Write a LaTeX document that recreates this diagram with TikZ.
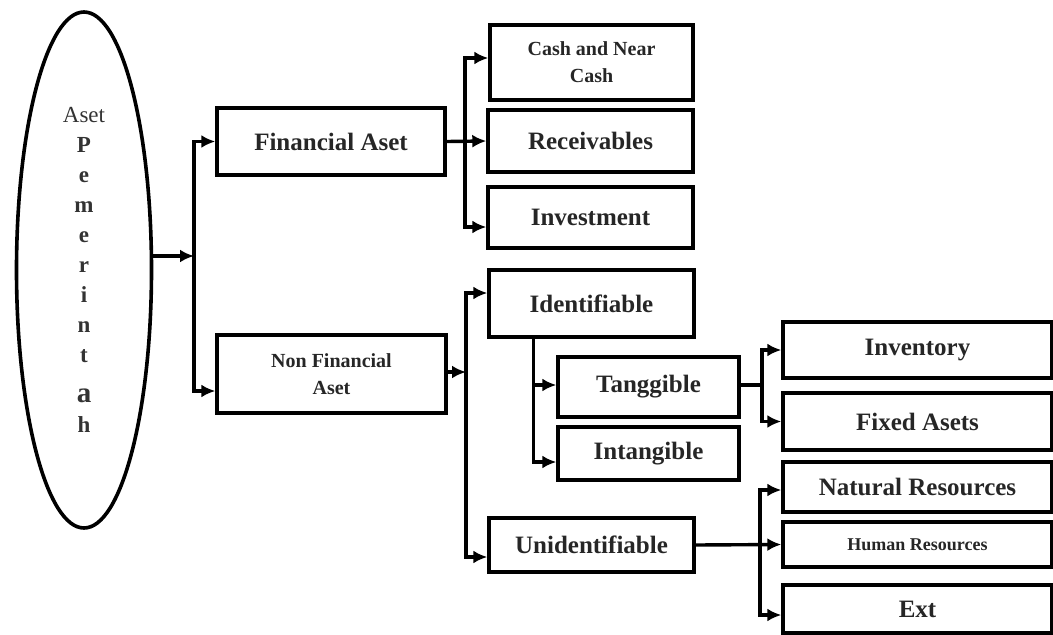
\documentclass[tikz,border=0pt]{standalone}
\usepackage{fontspec}
\setmainfont{Liberation Serif}
\usetikzlibrary{arrows.meta,shapes.geometric}

\begin{document}
\begin{tikzpicture}[x=1pt,y=-1pt,
    box/.style={draw, line width=3.4pt, inner sep=2pt, align=center,
                font=\bfseries\fontsize{25}{30}\selectfont, text=black!85},
    small/.style={font=\bfseries\fontsize{20}{27}\selectfont},
    arr/.style={-{Latex[length=14pt,width=13pt]}, line width=3.4pt},
    lnk/.style={line width=3.4pt}]
\useasboundingbox (0,0) rectangle (1053,635);
% root
\node[ellipse, draw, line width=3.6pt, minimum width=135pt, minimum height=516pt,
      align=center, font=\bfseries\fontsize{23}{30}\selectfont, text=black!80]
      (root) at (84,270) {{\mdseries Aset}\\P\\e\\m\\e\\r\\i\\n\\t\\[10pt]{\fontsize{29}{30}\selectfont a}\\h};
% financial side
\node[box, minimum width=228pt, minimum height=67pt] (fin) at (331,141.5) {Financial Aset};
\node[box, small, minimum width=203pt, minimum height=75pt] (cash) at (591.5,62.5) {Cash and Near\\Cash};
\node[box, minimum width=205pt, minimum height=62pt] (recv) at (590.5,141) {Receivables};
\node[box, minimum width=205pt, minimum height=61pt] (inv) at (590.5,217.5) {Investment};
% non financial side
\node[box, small, minimum width=229pt, minimum height=78pt] (nonfin) at (331.5,374) {Non Financial\\Aset};
\node[box, minimum width=205pt, minimum height=67pt] (ident) at (591.5,303.5) {Identifiable};
\node[box, minimum width=181pt, minimum height=60pt] (tang) at (648.5,387) {Tanggible};
\node[box, minimum width=181pt, minimum height=53pt] (intang) at (648.5,453.5) {Intangible};
\node[box, minimum width=205pt, minimum height=54pt] (unid) at (591.5,545) {Unidentifiable};
\node[box, minimum width=269pt, minimum height=56pt] (invent) at (917.5,350) {Inventory};
\node[box, minimum width=269pt, minimum height=57pt] (fixed) at (917.5,421.5) {Fixed Asets};
\node[box, minimum width=269pt, minimum height=50pt] (natural) at (917.5,487) {Natural Resources};
\node[box, minimum width=269pt, minimum height=45pt, font=\bfseries\fontsize{18}{22}\selectfont] (human) at (917.5,544.5) {Human Resources};
\node[box, minimum width=269pt, minimum height=48pt] (ext) at (917.5,609) {Ext};
% branch points
\coordinate (j1) at (194,256);
\coordinate (j2) at (465,141.5);
\coordinate (j3) at (466,372);
\coordinate (j4) at ([xshift=46pt]ident.south west);
\coordinate (j5) at (762,385);
\coordinate (j6) at (760,544.5);
% connectors
\draw[arr] (root.east |- j1) -- (j1);
\draw[arr] (j1) |- (fin.west);
\draw[arr] (j1) |- ([yshift=-17pt]nonfin.west);
\draw[arr] (fin.east) -- (recv.west);
\draw[arr] (j2) |- ([yshift=4.5pt]cash.west);
\draw[arr] (j2) |- ([yshift=-9.5pt]inv.west);
\draw[arr] (nonfin.east |- j3) -- (j3);
\draw[arr] (j3) |- ([yshift=10.5pt]ident.west);
\draw[arr] (j3) |- ([yshift=-12pt]unid.west);
\draw[arr] (j4) |- ([yshift=2pt]tang.west);
\draw[arr] (j4) |- ([yshift=-8.5pt]intang.west);
\draw[lnk] (tang.east |- j5) -- (j5);
\draw[arr] (j5) |- (invent.west);
\draw[arr] (j5) |- (fixed.west);
\draw[arr] (unid.east) -- (human.west);
\draw[arr] (j6) |- ([yshift=-3pt]natural.west);
\draw[arr] (j6) |- ([yshift=-6pt]ext.west);
\end{tikzpicture}
\end{document}
